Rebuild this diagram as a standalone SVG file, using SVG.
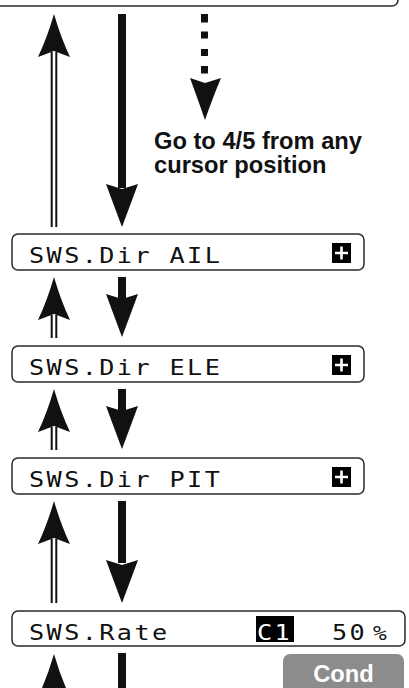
<svg xmlns="http://www.w3.org/2000/svg" width="409" height="688" viewBox="0 0 409 688">
<defs>
<style>
.box{fill:#fff;stroke:#2a2a2a;stroke-width:1.5}
.lcd{font-family:"DejaVu Sans Mono","Liberation Mono",monospace;font-size:21px;fill:#111;letter-spacing:2px}
.lbl{font-family:"Liberation Sans",Arial,sans-serif;font-weight:bold;font-size:23.7px;fill:#111}
.head{fill:#111}
.dbl{stroke:#111;stroke-width:2;fill:none}
.solid{fill:#111}
.inv{fill:#000}
.plus{stroke:#fff;stroke-width:2.6;fill:none}
</style>
</defs>
<g id="top-screen"><rect class="box" x="-10" y="-30" width="408" height="36" rx="6" stroke-width="2"/></g>
<g id="connectors">
  <path class="head" d="M54,14 Q47,38 38,57 L54,51 L70,57 Q61,38 54,14 Z"/>
  <line class="dbl" x1="51.7" y1="52" x2="51.7" y2="227"/>
  <line class="dbl" x1="56.3" y1="52" x2="56.3" y2="227"/>
  <rect class="solid" x="118" y="14" width="8" height="174"/>
  <path class="head" d="M122,227 Q113,203 106,184 L122,189 L138,184 Q131,203 122,227 Z"/>
  <g class="solid">
    <rect x="201" y="14" width="7" height="8.5"/>
    <rect x="201" y="31.5" width="7" height="7"/>
    <rect x="201" y="49" width="7" height="7"/>
    <rect x="201" y="66" width="7" height="7.5"/>
  </g>
  <path class="head" d="M205,120 Q197,97 190,78 L205,83 L221,78 Q213,97 205,120 Z"/>
  <path class="head" d="M54,277 Q47,301 38,320 L54,314 L70,320 Q61,301 54,277 Z"/>
  <line class="dbl" x1="51.7" y1="315" x2="51.7" y2="338"/>
  <line class="dbl" x1="56.3" y1="315" x2="56.3" y2="338"/>
  <rect class="solid" x="118" y="277" width="8" height="22"/>
  <path class="head" d="M122,337 Q113,313 106,294 L122,299 L138,294 Q131,313 122,337 Z"/>
  <path class="head" d="M54,389 Q47,413 38,432 L54,426 L70,432 Q61,413 54,389 Z"/>
  <line class="dbl" x1="51.7" y1="427" x2="51.7" y2="450"/>
  <line class="dbl" x1="56.3" y1="427" x2="56.3" y2="450"/>
  <rect class="solid" x="118" y="389" width="8" height="22"/>
  <path class="head" d="M122,449 Q113,425 106,406 L122,411 L138,406 Q131,425 122,449 Z"/>
  <path class="head" d="M54,501 Q47,525 38,544 L54,538 L70,544 Q61,525 54,501 Z"/>
  <line class="dbl" x1="51.7" y1="539" x2="51.7" y2="603"/>
  <line class="dbl" x1="56.3" y1="539" x2="56.3" y2="603"/>
  <rect class="solid" x="118" y="501" width="8" height="62"/>
  <path class="head" d="M122,603 Q113,579 106,560 L122,565 L138,560 Q131,579 122,603 Z"/>
  <path class="head" d="M54,654 Q47,678 38,697 L54,691 L70,697 Q61,678 54,654 Z"/>
  <rect class="solid" x="118" y="653" width="8" height="40"/>
</g>
<g id="note"><text class="lbl" x="154" y="149">Go to 4/5 from any</text><text class="lbl" x="154" y="173">cursor position</text></g>
<g id="sws-dir-ail">
  <rect class="box" x="12" y="234" width="352" height="36" rx="6"/>
  <text class="lcd" transform="translate(29,263) scale(1.2,1)">SWS.Dir AIL</text>
  <rect class="inv" x="332" y="243" width="19" height="20"/>
  <path class="plus" d="M341.5,246.5 v13 M335,253 h13"/>
</g>
<g id="sws-dir-ele">
  <rect class="box" x="12" y="346" width="352" height="36" rx="6"/>
  <text class="lcd" transform="translate(29,375) scale(1.2,1)">SWS.Dir ELE</text>
  <rect class="inv" x="332" y="355" width="19" height="20"/>
  <path class="plus" d="M341.5,358.5 v13 M335,365 h13"/>
</g>
<g id="sws-dir-pit">
  <rect class="box" x="12" y="458" width="352" height="36" rx="6"/>
  <text class="lcd" transform="translate(29,487) scale(1.2,1)">SWS.Dir PIT</text>
  <rect class="inv" x="332" y="467" width="19" height="20"/>
  <path class="plus" d="M341.5,470.5 v13 M335,477 h13"/>
</g>
<g id="sws-rate">
  <rect class="box" x="12" y="611" width="393" height="35" rx="6"/>
  <text class="lcd" transform="translate(29,640) scale(1.2,1)">SWS.Rate</text>
  <rect class="inv" x="256" y="616" width="38" height="26"/>
  <text class="lcd" transform="translate(257,640) scale(1.2,1)" style="fill:#fff">C1</text>
  <text class="lcd" transform="translate(332,640) scale(1.2,1)">50</text>
  <text class="lcd" transform="translate(373,640) scale(1.2,1)" style="font-size:19px">%</text>
</g>
<g id="cond">
  <rect x="283" y="654" width="121" height="44" rx="7" fill="#8c8c8c"/>
  <text class="lbl" x="343.5" y="682" text-anchor="middle" style="fill:#fff">Cond</text>
</g>
</svg>
